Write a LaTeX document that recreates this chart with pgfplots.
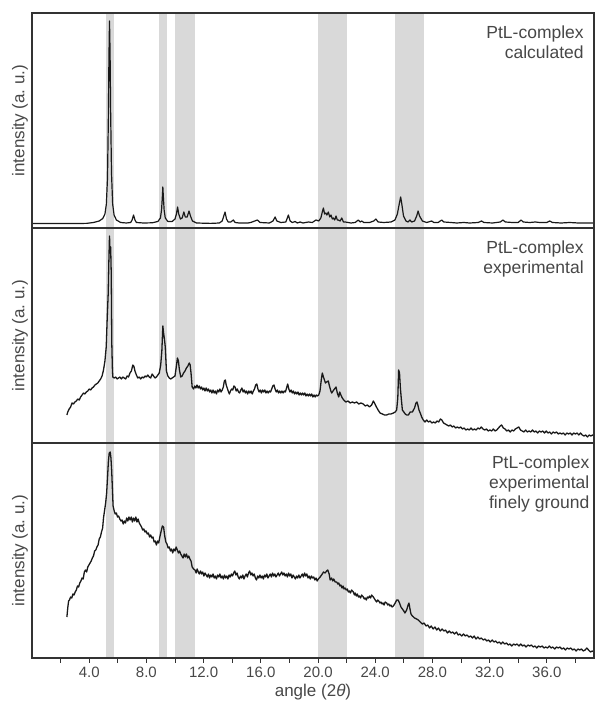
\documentclass[border=0pt]{standalone}
\usepackage{fontspec}
\setmainfont{Liberation Sans}
\usepackage{pgfplots}
\pgfplotsset{compat=1.18}

\definecolor{band}{gray}{0.85}
\definecolor{frame}{gray}{0.2}
\definecolor{txt}{gray}{0.28}

% highlighted 2theta regions, repeated in every panel
\newcommand{\bands}{%
  \addplot[draw=none, fill=band] coordinates {(5.15,215) (5.75,215)} \closedcycle;
  \addplot[draw=none, fill=band] coordinates {(8.85,215) (9.45,215)} \closedcycle;
  \addplot[draw=none, fill=band] coordinates {(10.0,215) (11.4,215)} \closedcycle;
  \addplot[draw=none, fill=band] coordinates {(20.0,215) (22.0,215)} \closedcycle;
  \addplot[draw=none, fill=band] coordinates {(25.4,215) (27.4,215)} \closedcycle;
}

\tikzset{
  xrdline/.style={black!90, line width=1.3pt, line join=round},
  tag/.style={anchor=north east, align=right, inner sep=0pt,
    font=\fontsize{17.5}{20}\selectfont, text=txt},
}

\pgfplotsset{
  xrd/.style={
    scale only axis, width=562pt, height=215pt,
    anchor=south west,
    xmin=0, xmax=39.3, ymin=0, ymax=215,
    ytick=\empty, xtick=\empty,
    axis on top,
    axis line style={frame, line width=1.3pt},
    ylabel={intensity (a.\ u.)},
    ylabel style={at={(axis description cs:-0.0214,0.5)}, anchor=center,
      font=\fontsize{17}{20}\selectfont, text=txt},
  },
}

\begin{document}
\begin{tikzpicture}
\useasboundingbox (0,0) rectangle (595pt,702pt);

% ---------------- calculated pattern ----------------
\begin{axis}[xrd, at={(32pt,474pt)}]
\bands
\addplot[xrdline, line width=1.2pt] coordinates {
(0,4.5)(3.8,4.6)(4.3,5.5)(4.7,7)(4.95,9.5)(5.1,14)(5.2,24)(5.28,50)(5.34,110)
(5.38,170)(5.42,207)(5.46,175)(5.5,115)(5.56,55)(5.64,24)(5.74,13)(5.9,8)
(6.2,5.5)(6.6,5)(6.9,5.5)(7.0,8)(7.1,13)(7.2,8)(7.3,5.5)(7.8,5)(8.4,5.2)
(8.8,6.5)(8.98,10)(9.06,18)(9.11,30)(9.15,41)(9.19,30)(9.24,18)(9.32,10)
(9.5,6.5)(9.8,6.5)(10.0,9)(10.1,14)(10.18,21)(10.26,14)(10.38,9)(10.5,10)
(10.62,16)(10.72,11)(10.85,11)(10.98,17)(11.08,12)(11.22,7)(11.5,5)(12.5,4.6)
(13.1,5)(13.3,7)(13.5,16)(13.6,9)(13.72,6)(13.9,6)(14.08,8)(14.2,5.5)(14.5,5)
(15.1,5)(15.3,5.5)(15.76,8)(15.95,5.5)(16.6,5)(16.85,7)(17.0,11)(17.12,7)
(17.4,5.5)(17.75,6)(17.93,13)(18.05,7)(18.2,5.5)(18.4,6.5)(18.55,5)(18.75,6)
(18.95,5)(19.33,6)(19.6,5.5)(19.86,8)(20.05,7)(20.2,10)(20.3,16)(20.38,20)
(20.46,14)(20.55,15)(20.62,13)(20.72,16)(20.82,11)(20.91,13)(21.0,9)(21.07,10)
(21.17,8)(21.26,12)(21.35,8)(21.42,8)(21.55,7)(21.66,10)(21.78,6)(21.9,6)
(22.3,5)(22.6,5.5)(22.82,8)(22.95,6)(23.06,7)(23.2,5.5)(23.6,5.5)(23.9,7)
(24.05,9)(24.2,6)(24.6,5.5)(25.1,6)(25.38,8)(25.55,14)(25.68,24)(25.78,31)
(25.86,24)(25.98,12)(26.15,7)(26.3,6)(26.43,8)(26.55,6)(26.75,7)(26.9,12)
(27.0,17)(27.1,12)(27.3,7)(27.6,5.5)(27.95,7)(28.1,5.5)(28.4,5.5)(28.65,8)
(28.8,6)(29.3,5.5)(29.7,5)(30.2,5.5)(30.6,5)(31.2,5.5)(31.44,7)(31.6,5.5)
(32.2,5)(32.75,6)(32.93,8)(33.1,6)(33.6,5.5)(34.0,5.5)(34.2,8)(34.35,6)
(34.8,5.5)(35.2,6)(35.5,5.5)(36.0,5.5)(36.2,7)(36.4,5.5)(37.0,5)(37.6,5.5)
(38.2,5)(39.3,5)
};
\node[tag, yshift=-13pt] at (rel axis cs:0.982,1) {PtL-complex\\calculated};
\end{axis}

% ---------------- experimental pattern ----------------
\begin{axis}[xrd, at={(32pt,259pt)}]
\bands
\addplot[xrdline] coordinates {
(2.44,28)(2.5,31)(2.6,34)(2.7,36)(2.8,40)(2.9,39)(3.0,41)(3.1,42)(3.2,44)
(3.3,43)(3.4,46)(3.5,48)(3.6,50)(3.7,49)(3.8,51)(3.9,52)(4.0,54)(4.1,53)
(4.2,55)(4.3,56)(4.4,58)(4.5,59)(4.6,60)(4.7,62)(4.8,64)(4.9,67)(5.0,73)
(5.1,82)(5.19,96)(5.26,125)(5.33,150)(5.38,185)(5.42,207)(5.46,190)(5.5,196)
(5.54,170)(5.58,100)(5.62,75)(5.65,66)(5.75,65)(5.85,66)(5.95,64)(6.05,65)
(6.15,66)(6.25,64)(6.35,66)(6.45,65)(6.55,64)(6.65,67)(6.75,66)(6.85,70)
(6.95,72)(7.05,78)(7.12,77)(7.2,72)(7.3,68)(7.4,65)(7.5,66)(7.6,64)(7.7,66)
(7.8,65)(7.9,67)(8.0,66)(8.1,68)(8.2,66)(8.3,65)(8.4,69)(8.5,67)(8.6,65)
(8.7,66)(8.8,68)(8.9,70)(9.0,78)(9.08,92)(9.15,117)(9.2,110)(9.26,104)
(9.32,96)(9.4,72)(9.5,67)(9.6,65)(9.7,64)(9.8,65)(9.9,66)(10.0,67)(10.08,75)
(10.17,85)(10.24,82)(10.3,74)(10.4,66)(10.5,67)(10.6,70)(10.7,72)(10.8,75)
(10.9,77)(11.0,80)(11.06,78)(11.12,70)(11.2,56)
(11.3,54)(11.38,57)(11.46,55)(11.54,58)(11.62,55)(11.7,57)(11.78,54)(11.86,56)
(11.94,53)(12.02,55)(12.1,52)(12.18,55)(12.26,52)(12.34,54)(12.42,51)(12.5,53)
(12.58,50)(12.66,53)(12.74,50)(12.82,52)(12.9,49)(12.98,53)(13.06,51)(13.14,54)
(13.22,51)(13.3,53)(13.38,56)(13.45,62)(13.52,63)(13.58,58)(13.65,55)(13.72,52)
(13.8,49)(13.88,52)(13.96,54)(14.04,53)(14.12,57)(14.2,56)(14.28,52)(14.36,54)
(14.44,51)(14.52,50)(14.6,53)(14.68,55)(14.76,51)(14.84,53)(14.92,50)(15.0,52)
(15.08,49)(15.16,52)(15.24,50)(15.32,52)(15.4,49)(15.48,52)(15.56,54)(15.64,58)
(15.72,59)(15.8,54)(15.88,51)(15.96,53)(16.04,50)(16.12,53)(16.2,51)(16.28,53)
(16.36,50)(16.44,52)(16.52,50)(16.6,52)(16.68,51)(16.76,54)(16.84,57)(16.92,58)
(17.0,54)(17.08,51)(17.16,53)(17.24,50)(17.32,52)(17.4,50)(17.48,52)(17.56,50)
(17.64,52)(17.72,51)(17.8,55)(17.88,59)(17.96,54)(18.04,51)(18.12,53)(18.2,50)
(18.28,52)(18.36,49)(18.44,51)(18.52,49)(18.6,51)(18.68,48)(18.76,50)(18.84,48)
(18.92,50)(19.0,48)(19.08,50)(19.16,47)(19.24,49)(19.32,47)(19.4,49)(19.48,47)
(19.56,49)(19.64,46)(19.72,48)(19.8,46)(19.88,48)(19.96,47)(20.05,48)(20.14,52)
(20.22,62)(20.3,70)(20.38,66)(20.45,63)(20.52,60)(20.6,61)(20.72,62)(20.8,57)
(20.9,52)(20.96,50)(21.05,52)(21.15,54)(21.26,56)(21.35,50)(21.45,46)(21.52,51)
(21.6,48)(21.7,45)(21.8,43)(21.95,41)(22.1,42)(22.25,40)(22.4,41)(22.55,40)
(22.7,41)(22.85,39)(23.0,40)(23.17,39)(23.3,37)(23.45,38)(23.6,36)(23.75,38)
(23.87,42)(23.95,40)(24.05,37)(24.2,33)(24.34,30)(24.5,29)(24.65,28)(24.8,28)
(24.95,29)(25.1,29)(25.27,30)(25.4,31)(25.5,33)(25.58,45)(25.64,73)(25.7,70)
(25.76,55)(25.82,45)(25.9,33)(26.0,31)(26.1,29)(26.2,28)(26.32,28)(26.45,31)
(26.6,31)(26.75,35)(26.85,40)(26.92,41)(27.0,37)(27.06,33)(27.15,30)(27.25,26)
(27.36,23)(27.48,21)(27.6,23)(27.72,21)(27.84,22)(27.96,20)(28.08,21)(28.2,20)
(28.32,22)(28.44,21)(28.56,24)(28.66,23)(28.78,20)(28.9,19)(29.02,18)(29.14,17)
(29.26,18)(29.38,16)(29.5,17)(29.62,15)(29.74,16)(29.86,15)(29.98,16)(30.1,14)
(30.22,15)(30.34,13)(30.46,14)(30.58,13)(30.7,15)(30.82,13)(30.94,14)(31.06,13)
(31.18,15)(31.3,14)(31.42,16)(31.54,14)(31.66,13)(31.78,14)(31.9,12)(32.02,13)
(32.14,12)(32.26,14)(32.38,12)(32.5,13)(32.62,15)(32.74,17)(32.84,18)(32.96,15)
(33.08,14)(33.2,12)(33.32,13)(33.44,11)(33.56,13)(33.68,12)(33.8,14)(33.92,15)
(34.04,16)(34.16,13)(34.28,12)(34.4,11)(34.52,13)(34.64,11)(34.76,12)(34.88,11)
(35.0,13)(35.12,11)(35.24,12)(35.36,10)(35.48,12)(35.6,11)(35.72,12)(35.84,10)
(35.96,12)(36.08,10)(36.2,11)(36.32,9)(36.44,11)(36.56,10)(36.68,11)(36.8,9)
(36.92,10)(37.04,9)(37.16,10)(37.28,8)(37.4,10)(37.52,9)(37.64,10)(37.76,8)
(37.88,10)(38.0,9)(38.12,10)(38.24,8)(38.36,10)(38.48,8)(38.6,7)(38.72,8)
(38.84,6)(38.96,8)(39.08,7)(39.2,8)(39.3,7)
};
\node[tag, yshift=-13pt] at (rel axis cs:0.982,1) {PtL-complex\\experimental};
\end{axis}

% ---------------- finely ground sample ----------------
\begin{axis}[xrd, at={(32pt,44pt)},
  xtick={4,8,...,36}, minor xtick={2,6,...,38},
  xticklabels={4.0,8.0,12.0,16.0,20.0,24.0,28.0,32.0,36.0},
  xtick pos=bottom, tick align=outside,
  major tick length=5pt, minor tick length=5pt,
  every tick/.style={frame, line width=1pt},
  /pgf/number format/assume math mode=true,
  xticklabel style={font=\fontsize{15}{18}\selectfont, text=txt},
  xlabel={angle (2\textit{θ})},
  xlabel style={at={(axis description cs:0.5,0)}, anchor=center, yshift=-34pt,
    font=\fontsize{17}{20}\selectfont, text=txt},
]
\bands
\addplot[xrdline] coordinates {
(2.44,41)(2.5,50)(2.56,57)(2.62,58)(2.7,61)(2.78,60)(2.86,64)(2.94,63)(3.02,66)
(3.1,68)(3.18,72)(3.26,71)(3.34,75)(3.42,77)(3.5,80)(3.58,79)(3.66,86)(3.74,88)
(3.82,86)(3.9,91)(3.98,93)(4.06,95)(4.14,97)(4.22,100)(4.3,102)(4.38,107)
(4.46,108)(4.54,111)(4.62,113)(4.7,119)(4.78,121)(4.86,126)(4.94,130)
(5.0,140)(5.08,148)(5.15,155)(5.22,165)(5.28,180)(5.34,196)(5.4,205)(5.47,206)
(5.52,200)(5.57,188)(5.62,170)(5.67,152)
(5.75,147)(5.82,144)(5.9,145)(5.98,141)(6.06,142)(6.14,139)(6.22,137)(6.3,138)
(6.38,134)(6.46,137)(6.54,135)(6.62,140)(6.7,137)(6.78,141)(6.86,138)(6.94,141)
(7.02,136)(7.1,140)(7.18,137)(7.26,141)(7.34,136)(7.42,139)(7.5,135)(7.58,133)
(7.66,131)(7.74,128)(7.82,129)(7.9,126)(7.98,127)(8.06,124)(8.14,125)(8.22,121)
(8.3,123)(8.38,120)(8.46,121)(8.54,116)(8.62,117)(8.7,113)(8.78,117)(8.86,115)
(8.94,121)(9.05,128)(9.12,132)(9.2,131)(9.28,122)(9.36,116)
(9.44,114)(9.52,110)(9.6,111)(9.68,107)(9.76,109)(9.84,105)(9.92,109)(10.0,107)
(10.08,111)(10.16,108)(10.24,105)(10.32,107)(10.4,104)(10.48,102)(10.56,100)
(10.64,104)(10.72,101)(10.8,104)(10.88,100)(10.96,102)(11.04,99)(11.12,97)
(11.2,91)(11.3,89)
(11.4,88)(11.48,85)(11.55,89)(11.63,86)(11.7,84)(11.78,87)(11.86,84)(11.94,86)
(12.02,82)(12.1,85)(12.18,83)(12.26,81)(12.34,84)(12.42,80)(12.5,83)(12.58,81)
(12.66,84)(12.74,80)(12.82,82)(12.9,79)(12.98,83)(13.06,81)(13.14,84)(13.22,80)
(13.3,82)(13.38,79)(13.46,83)(13.54,80)(13.62,82)(13.7,79)(13.78,83)(13.86,81)
(13.94,84)(14.02,82)(14.1,85)(14.18,87)(14.26,83)(14.34,85)(14.42,81)(14.5,79)
(14.58,82)(14.66,80)(14.74,83)(14.82,79)(14.9,82)(14.98,84)(15.06,81)(15.14,85)
(15.22,87)(15.3,83)(15.38,85)(15.46,82)(15.54,84)(15.62,80)(15.7,78)(15.78,82)
(15.86,80)(15.94,83)(16.02,80)(16.1,82)(16.18,79)(16.26,83)(16.34,81)(16.42,84)
(16.5,80)(16.58,82)(16.66,84)(16.74,81)(16.82,85)(16.9,82)(16.98,84)(17.06,81)
(17.14,83)(17.22,85)(17.3,82)(17.38,84)(17.46,86)(17.54,83)(17.62,85)(17.7,82)
(17.78,84)(17.86,81)(17.94,85)(18.02,82)(18.1,84)(18.18,80)(18.26,83)(18.34,81)
(18.42,79)(18.5,82)(18.58,80)(18.66,83)(18.74,80)(18.82,82)(18.9,84)(18.98,81)
(19.06,85)(19.14,82)(19.22,84)(19.3,80)(19.38,82)(19.46,79)(19.54,82)(19.62,80)
(19.7,81)(19.78,78)(19.86,80)(19.94,77)(20.02,79)
(20.15,81)(20.3,84)(20.38,86)(20.5,85)(20.6,87)(20.68,88)
(20.78,84)(20.85,78)(20.95,80)(21.03,77)(21.1,79)(21.2,76)(21.31,76)(21.38,74)
(21.45,75)(21.53,72)(21.6,73)(21.68,70)(21.75,72)(21.82,69)(21.89,70)(21.97,68)
(22.05,69)(22.12,66)(22.2,67)(22.27,65)(22.35,68)(22.47,66)(22.55,63)(22.6,65)
(22.68,62)(22.75,64)(22.83,61)(22.9,62)(22.98,60)(23.05,63)(23.17,61)(23.24,59)
(23.3,60)(23.38,58)(23.45,61)(23.53,60)(23.6,62)(23.68,60)(23.75,63)(23.87,61)
(24.0,58)(24.1,56)(24.18,58)(24.25,57)(24.33,55)(24.4,56)(24.48,54)(24.55,55)
(24.62,53)(24.7,56)(24.8,55)(24.88,53)(24.95,54)(25.03,52)(25.1,53)(25.18,51)
(25.27,52)(25.4,55)(25.5,58)(25.6,58)(25.7,55)(25.8,51)(25.9,49)
(26.0,47)(26.08,45)(26.2,48)(26.3,53)(26.36,55)(26.42,50)(26.5,44)(26.6,42)
(26.75,40)(26.9,39)(27.01,38)
(27.15,36)(27.3,34)(27.42,35)(27.55,32)(27.68,33)(27.8,30)(27.92,32)(28.05,29)
(28.18,31)(28.3,28)(28.42,30)(28.55,27)(28.68,29)(28.8,27)(28.92,28)(29.05,25)
(29.18,27)(29.3,25)(29.42,26)(29.55,24)(29.68,26)(29.8,23)(29.92,24)(30.05,22)
(30.18,24)(30.3,22)(30.42,23)(30.55,21)(30.68,22)(30.8,20)(30.92,22)(31.05,19)
(31.18,21)(31.3,19)(31.42,20)(31.55,18)(31.68,19)(31.8,17)(31.92,18)(32.05,16)
(32.18,18)(32.3,16)(32.42,17)(32.55,15)(32.68,16)(32.8,14)(32.92,16)(33.05,14)
(33.18,15)(33.3,13)(33.42,14)(33.55,12)(33.68,14)(33.8,13)(33.92,14)(34.05,12)
(34.18,14)(34.3,12)(34.42,13)(34.55,11)(34.68,13)(34.8,12)(34.92,13)(35.05,11)
(35.18,12)(35.3,10)(35.42,12)(35.55,11)(35.68,12)(35.8,10)(35.92,11)(36.05,10)
(36.18,12)(36.3,10)(36.42,11)(36.55,9)(36.68,11)(36.8,10)(36.92,11)(37.05,9)
(37.18,10)(37.3,8)(37.42,10)(37.55,9)(37.68,10)(37.8,8)(37.92,9)(38.05,7)
(38.18,9)(38.3,8)(38.42,9)(38.55,7)(38.68,8)(38.8,10)(38.92,8)(39.05,6)
(39.18,7)(39.3,6)
};
\node[tag, yshift=-13pt] at (rel axis cs:0.992,1) {PtL-complex\\experimental\\finely ground};
\end{axis}
\end{tikzpicture}
\end{document}
